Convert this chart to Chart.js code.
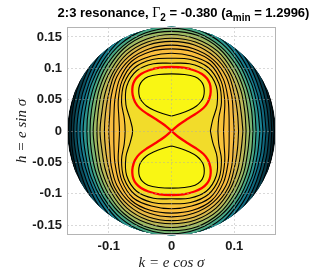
<!DOCTYPE html>
<html>
<head>
  <script src="https://cdn.jsdelivr.net/npm/chart.js"></script>
  <title>2:3 resonance</title>
  <style>
    body { margin: 0; background: #fff; }
    #wrap { width: 332px; height: 274px; }
  </style>
</head>
<body>
  <div id="wrap"><canvas id="c"></canvas></div>

  <script>
    // axis limits / ticks
    const X_LIM = 0.1667;
    const Y_LIM = 0.1659;
    const E_MAX = 0.1665;
    const X_TICKS = [-0.1, 0, 0.1];
    const X_TICK_LABELS = ['-0.1', '0', '0.1'];
    const Y_TICKS = [-0.15, -0.1, -0.05, 0, 0.05, 0.1, 0.15];
    const Y_TICK_LABELS = ['-0.15', '-0.1', '-0.05', '0', '0.05', '0.1', '0.15'];

    // contour levels outside the separatrix, radius (e) read at these angles
    const THETA_DEG = [0, 15, 30, 45, 60, 75, 90];
    const L1 = [0.062, 0.068, 0.084, 0.101, 0.111, 0.111, 0.108];
    const L2 = [0.074, 0.078, 0.092, 0.107, 0.117, 0.118, 0.116];
    const L3 = [0.083, 0.087, 0.098, 0.112, 0.123, 0.124, 0.124];
    const L4 = [0.092, 0.095, 0.104, 0.117, 0.128, 0.131, 0.131];
    const L5 = [0.100, 0.102, 0.111, 0.123, 0.132, 0.136, 0.137];
    const L6 = [0.107, 0.109, 0.116, 0.128, 0.137, 0.142, 0.143];
    const L7 = [0.114, 0.115, 0.122, 0.132, 0.142, 0.147, 0.148];
    const L8 = [0.119, 0.121, 0.128, 0.137, 0.147, 0.152, 0.154];
    const L9 = [0.125, 0.126, 0.133, 0.142, 0.152, 0.158, 0.159];
    const L10 = [0.130, 0.132, 0.138, 0.147, 0.156, 0.162, 0.164];
    const L11 = [0.135, 0.137, 0.143, 0.152, 0.161, 0.167, 0.170];
    const L12 = [0.141, 0.142, 0.148, 0.156, 0.166, 0.173, 0.175];
    const L13 = [0.146, 0.147, 0.152, 0.161, 0.171, 0.178, 0.181];
    const L14 = [0.151, 0.152, 0.157, 0.166, 0.175, 0.183, 0.187];
    const L15 = [0.156, 0.157, 0.162, 0.171, 0.180, 0.188, 0.191];
    const L16 = [0.160, 0.162, 0.167, 0.175, 0.185, 0.193, 0.196];
    const L17 = [0.164, 0.165, 0.170, 0.179, 0.188, 0.196, 0.201];
    const LEVELS = [L1, L2, L3, L4, L5, L6, L7, L8, L9, L10, L11, L12, L13, L14, L15, L16, L17];
    const LEVEL_COLORS = ['#f2dc2a', '#f4cd33', '#f8c33a', '#fabe3d', '#f6bb40', '#e9b945',
      '#d6b84c', '#bdb957', '#9fba64', '#78b472', '#4aa884', '#2c9690', '#1a8090',
      '#106a80', '#0b5060', '#083a48', '#062a34'];
    const EDGE_COLOR = '#03141a';

    // separatrix, upper right quarter from the saddle to the top
    const RED_QX = [0, 0.0112, 0.0239, 0.0383, 0.0510, 0.0582, 0.0619, 0.0625, 0.0609, 0.0566, 0.0486, 0.0367, 0.0191, 0];
    const RED_QY = [0, 0.0096, 0.0183, 0.0271, 0.0367, 0.0463, 0.0574, 0.0670, 0.0758, 0.0837, 0.0909, 0.0965, 0.1010, 0.1021];
    const LOBE_COLOR = '#f4ec1e';

    // inner contour of each libration island, right half from bottom to top
    const OVAL_QX = [0, 0.0144, 0.0287, 0.0399, 0.0470, 0.0510, 0.0523, 0.0510, 0.0463, 0.0375, 0.0207, 0];
    const OVAL_QY = [0.0239, 0.0279, 0.0335, 0.0399, 0.0470, 0.0542, 0.0638, 0.0726, 0.0805, 0.0866, 0.0901, 0.0912];
    const OVAL_COLOR = '#f9f614';

    const TITLE_PARTS = [
      { t: '2:3 resonance, ', f: 'bold 13px "Liberation Sans"' },
      { t: 'Γ', f: '14px "Liberation Serif"' },
      { t: '2', f: 'bold 10px "Liberation Sans"', sub: true },
      { t: ' = -0.380 (a', f: 'bold 13px "Liberation Sans"' },
      { t: 'min', f: 'bold 10px "Liberation Sans"', sub: true },
      { t: ' = 1.2996)', f: 'bold 13px "Liberation Sans"' }
    ];

    function polarLoop(radii) {
      const pts = [];
      for (let k = 0; k <= 24; k++) {
        const deg = (k * 15) % 360;
        let a = deg % 180;
        if (a > 90) a = 180 - a;
        const r = radii[THETA_DEG.indexOf(a)];
        const th = deg * Math.PI / 180;
        pts.push({ x: r * Math.cos(th), y: r * Math.sin(th) });
      }
      return pts;
    }

    const mirror = (xs, ys, sx, sy) => xs.map((x, i) => ({ x: sx * x, y: sy * ys[i] }));

    // figure eight: up the right side, down the left to the saddle, then the lower lobe
    const redPath = [
      ...mirror(RED_QX, RED_QY, 1, 1),
      ...mirror(RED_QX, RED_QY, -1, 1).reverse().slice(1),
      ...mirror(RED_QX, RED_QY, 1, -1).slice(1),
      ...mirror(RED_QX, RED_QY, -1, -1).reverse().slice(1)
    ];
    const ovalUp = [...mirror(OVAL_QX, OVAL_QY, 1, 1), ...mirror(OVAL_QX, OVAL_QY, -1, 1).reverse().slice(1)];
    const ovalDown = [...mirror(OVAL_QX, OVAL_QY, 1, -1), ...mirror(OVAL_QX, OVAL_QY, -1, -1).reverse().slice(1)];

    const base = { showLine: true, pointRadius: 0, fill: false, tension: 0.35, borderColor: '#000', borderWidth: 1.1 };
    const datasets = [
      { ...base, data: ovalUp, bandColor: OVAL_COLOR },
      { ...base, data: ovalDown, bandColor: OVAL_COLOR },
      { ...base, data: redPath, bandColor: LOBE_COLOR, borderColor: '#ff0000', borderWidth: 2.3 }
    ];
    LEVELS.forEach((lv, i) => datasets.push({ ...base, data: polarLoop(lv), bandColor: LEVEL_COLORS[i] }));

    // fills each closed contour and clips everything to the disc e <= E_MAX
    const contourFill = {
      id: 'contourFill',
      beforeDatasetsDraw(chart) {
        const { ctx, scales: { x, y } } = chart;
        const cx = x.getPixelForValue(0), cy = y.getPixelForValue(0);
        const r = x.getPixelForValue(E_MAX) - cx;
        ctx.save();
        ctx.beginPath();
        ctx.arc(cx, cy, r, 0, 2 * Math.PI);
        ctx.clip();
        ctx.fillStyle = EDGE_COLOR;
        ctx.fill();
      },
      beforeDatasetDraw(chart, args) {
        const ds = chart.data.datasets[args.index];
        const line = args.meta.dataset;
        if (!ds.bandColor || !line) return;
        const ctx = chart.ctx;
        ctx.save();
        ctx.beginPath();
        line.path(ctx);
        ctx.closePath();
        ctx.fillStyle = ds.bandColor;
        ctx.fill();
        ctx.restore();
      },
      afterDatasetsDraw(chart) {
        chart.ctx.restore();
      },
      afterDraw(chart) {
        const { ctx, chartArea: a } = chart;
        ctx.save();
        ctx.strokeStyle = '#b4b4b4';
        ctx.lineWidth = 1;
        ctx.strokeRect(a.left + 0.5, a.top + 0.5, a.right - a.left - 1, a.bottom - a.top - 1);
        // title with subscripts
        let w = 0;
        TITLE_PARTS.forEach(p => { ctx.font = p.f; w += ctx.measureText(p.t).width; });
        let tx = 183.5 - w / 2;
        ctx.fillStyle = '#000';
        ctx.textBaseline = 'alphabetic';
        TITLE_PARTS.forEach(p => {
          ctx.font = p.f;
          ctx.fillText(p.t, tx, p.sub ? 20.5 : 17);
          tx += ctx.measureText(p.t).width;
        });
        ctx.restore();
      }
    };

    const tickFont = { family: 'Liberation Sans', weight: 'bold', size: 13 };
    const gridOpts = { z: 1, color: 'rgba(170,170,170,0.45)', drawTicks: false, lineWidth: 1 };

    new Chart(document.getElementById('c'), {
      type: 'scatter',
      data: { datasets },
      options: {
        responsive: true,
        maintainAspectRatio: false,
        animation: false,
        layout: { padding: { top: 27, right: 56, left: 0, bottom: 0 } },
        plugins: { legend: { display: false }, tooltip: { enabled: false } },
        scales: {
          x: {
            type: 'linear', min: -X_LIM, max: X_LIM,
            afterBuildTicks: s => { s.ticks = X_TICKS.map(v => ({ value: v })); },
            afterFit: s => { s.height = 39; },
            ticks: { font: tickFont, color: '#1a1a1a', padding: 4, maxRotation: 0, autoSkip: false,
              callback: (v, i) => X_TICK_LABELS[i] },
            grid: gridOpts,
            border: { display: false, dash: [2, 2] },
            title: { display: true, text: 'k = e cos σ', color: '#1a1a1a',
              font: { family: 'Liberation Serif', style: 'italic', size: 15 }, padding: { top: 0, bottom: 2 } }
          },
          y: {
            type: 'linear', min: -Y_LIM, max: Y_LIM,
            afterBuildTicks: s => { s.ticks = Y_TICKS.map(v => ({ value: v })); },
            afterFit: s => { s.width = 67; },
            ticks: { font: tickFont, color: '#1a1a1a', padding: 5, autoSkip: false,
              callback: (v, i) => Y_TICK_LABELS[i] },
            grid: gridOpts,
            border: { display: false, dash: [2, 2] },
            title: { display: true, text: 'h = e sin σ', color: '#1a1a1a',
              font: { family: 'Liberation Serif', style: 'italic', size: 15 }, padding: { top: 13, bottom: 0 } }
          }
        }
      },
      plugins: [contourFill]
    });
  </script>
</body>
</html>
